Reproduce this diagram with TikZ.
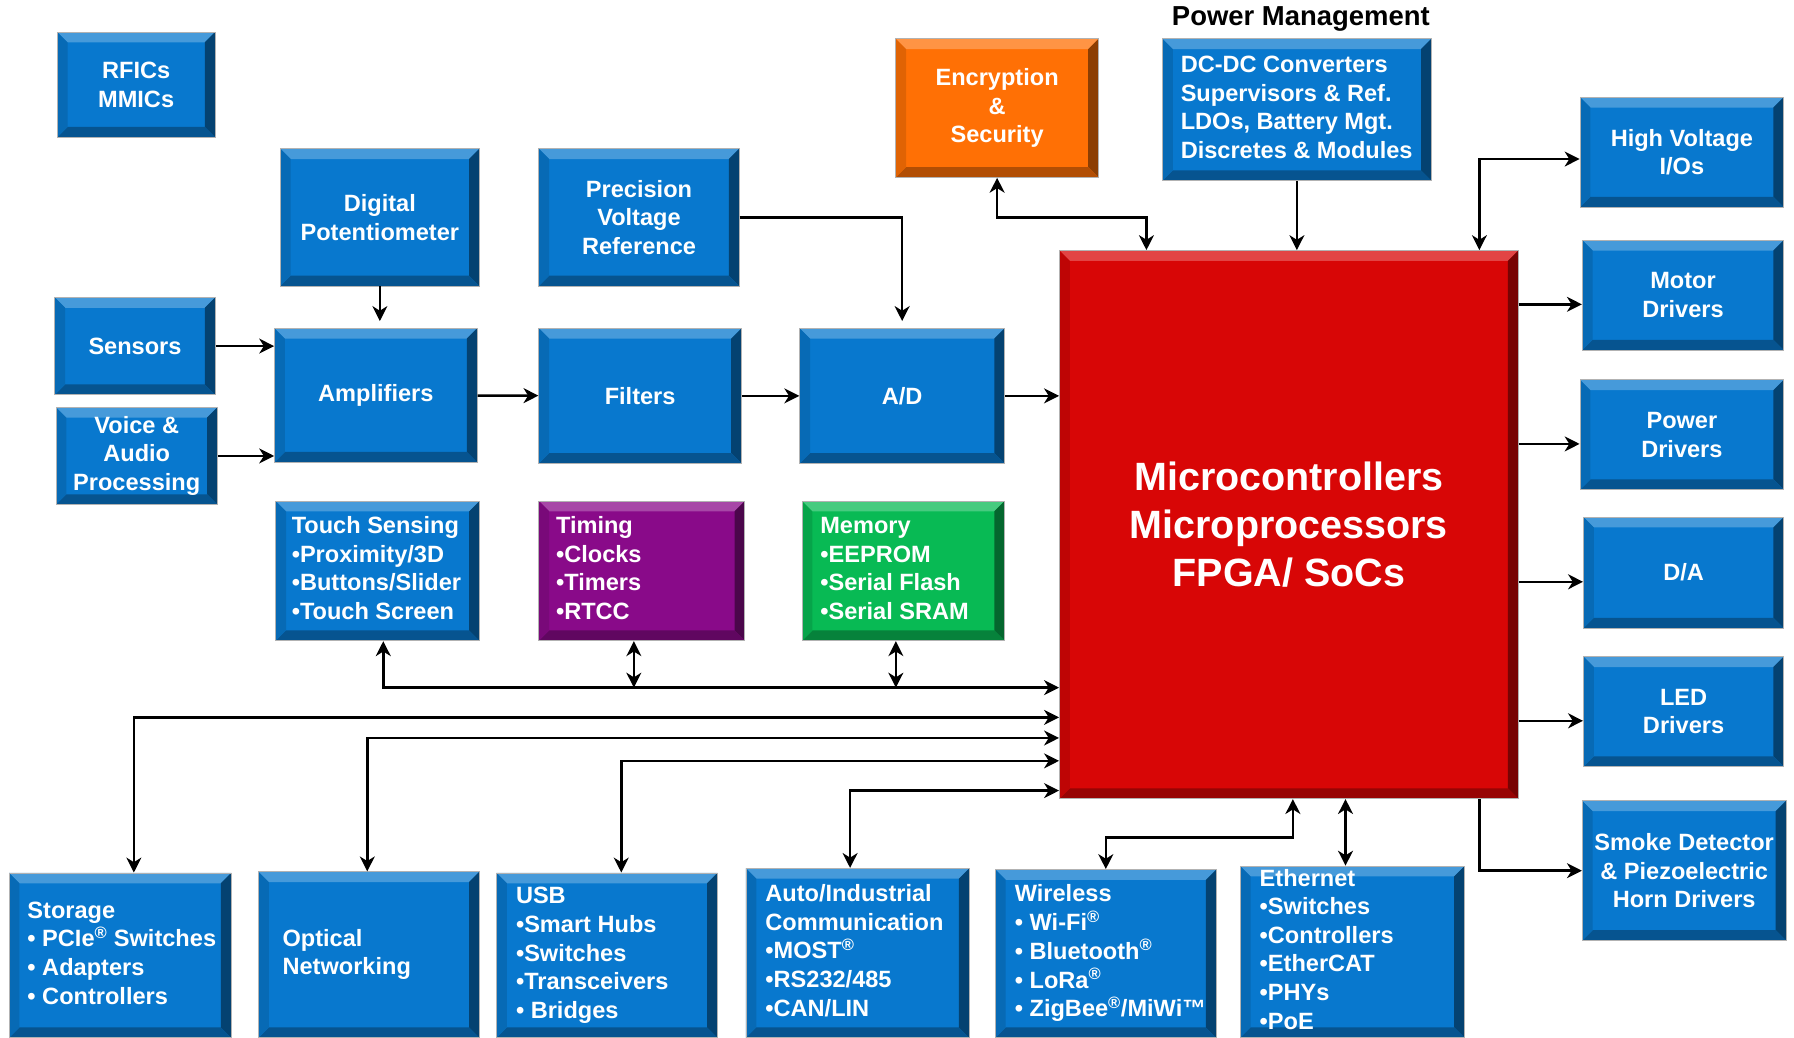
\documentclass[tikz,border=0pt]{standalone}
\usepackage{fontspec}
\setmainfont{Liberation Sans}
\usetikzlibrary{arrows.meta}

\definecolor{chipblue}{RGB}{8,120,206}
\definecolor{mcured}{RGB}{216,6,6}
\definecolor{secorange}{RGB}{255,112,5}
\definecolor{timepurple}{RGB}{137,10,137}
\definecolor{memgreen}{RGB}{8,186,84}

\newcommand{\bxfont}{\bfseries\fontsize{20.6}{25}\selectfont}
\newcommand{\mcufont}{\bfseries\fontsize{34.5}{42}\selectfont}
\newcommand{\reg}{\textsuperscript{®}}
% left aligned list of a given width
\newcommand{\lstbox}[2]{\hbox to #1pt{\begin{tabular}{@{}l@{}}#2\end{tabular}\hss}}

\begin{document}
\begin{tikzpicture}[x=1pt, y=-1pt, line width=2.2pt,
	>={Stealth[length=13pt,width=13pt,inset=4pt]},
	blk/.style = {fill=#1, draw=black!30, line width=0.8pt, text=white, font=\bxfont,
		align=center, inner sep=0pt,
		path picture={
			\path (path picture bounding box.north west) coordinate (bvA)
				(path picture bounding box.north east) coordinate (bvB)
				(path picture bounding box.south east) coordinate (bvC)
				(path picture bounding box.south west) coordinate (bvD);
			\fill[#1!75!white] (bvA) -- (bvB) -- ([shift={(-9pt,-9pt)}]bvB) -- ([shift={(9pt,-9pt)}]bvA) -- cycle;
			\fill[#1!55!black] (bvB) -- (bvC) -- ([shift={(-9pt,9pt)}]bvC) -- ([shift={(-9pt,-9pt)}]bvB) -- cycle;
			\fill[#1!70!black] (bvC) -- (bvD) -- ([shift={(9pt,9pt)}]bvD) -- ([shift={(-9pt,9pt)}]bvC) -- cycle;
			\fill[#1!88!black] (bvD) -- (bvA) -- ([shift={(9pt,-9pt)}]bvA) -- ([shift={(9pt,9pt)}]bvD) -- cycle;
		}},
	bluebox/.style = {blk=chipblue}]

	\useasboundingbox[fill=white] (0,0) rectangle (1568,907);

	% top row
	\node[bluebox, minimum width=138pt, minimum height=92pt] (rf) at (119,74) {RFICs\\MMICs};
	\node[bluebox, minimum width=174pt, minimum height=120pt] (pot) at (332,190) {Digital\\Potentiometer};
	\node[bluebox, minimum width=175pt, minimum height=120pt] (ref) at (558.5,190) {Precision\\Voltage\\Reference};
	\node[blk=secorange, minimum width=177pt, minimum height=121pt] (enc) at (871.5,94.5) {Encryption\\\&\\Security};
	\node[font=\bfseries\fontsize{24}{28}\selectfont] (pmt) at (1137,17) {Power Management};
	\node[bluebox, minimum width=235pt, minimum height=124pt] (pwr) at (1133.5,96)
		{\lstbox{203}{DC-DC Converters\\Supervisors \& Ref.\\LDOs, Battery Mgt.\\Discretes \& Modules}};

	% signal chain
	\node[bluebox, minimum width=140pt, minimum height=85pt] (sens) at (118,302.5) {Sensors};
	\node[bluebox, minimum width=141pt, minimum height=85pt] (voice) at (119.5,398.5) {Voice \&\\Audio\\Processing};
	\node[bluebox, minimum width=177pt, minimum height=117pt] (amp) at (328.5,345.5) {Amplifiers};
	\node[bluebox, minimum width=177pt, minimum height=118pt] (filt) at (559.5,346) {Filters};
	\node[bluebox, minimum width=179pt, minimum height=118pt] (ad) at (788.5,346) {A/D};

	% core
	\node[blk=mcured, font=\mcufont, minimum width=401pt, minimum height=479pt] (mcu) at (1126.5,458.5)
		{Microcontrollers\\Microprocessors\\FPGA/ SoCs};

	% middle row
	\node[bluebox, minimum width=178pt, minimum height=122pt] (touch) at (330,499)
		{\lstbox{150}{Touch Sensing\\•Proximity/3D\\•Buttons/Slider\\•Touch Screen}};
	\node[blk=timepurple, minimum width=180pt, minimum height=122pt] (tim) at (561,499)
		{\lstbox{150}{Timing\\•Clocks\\•Timers\\•RTCC}};
	\node[blk=memgreen, minimum width=177pt, minimum height=122pt] (mem) at (789.5,499)
		{\lstbox{145}{Memory\\•EEPROM\\•Serial Flash\\•Serial SRAM}};

	% right column
	\node[bluebox, minimum width=178pt, minimum height=96pt] (hv) at (1470,133) {High Voltage\\I/Os};
	\node[bluebox, minimum width=176pt, minimum height=96pt] (mot) at (1471,258) {Motor\\Drivers};
	\node[bluebox, minimum width=178pt, minimum height=96pt] (pdrv) at (1470,380) {Power\\Drivers};
	\node[bluebox, minimum width=175pt, minimum height=97pt] (da) at (1471.5,500.5) {D/A};
	\node[bluebox, minimum width=175pt, minimum height=96pt] (led) at (1471.5,622) {LED\\Drivers};
	\node[bluebox, minimum width=178pt, minimum height=122pt] (smk) at (1472,761)
		{Smoke Detector\\\& Piezoelectric\\Horn Drivers};

	% bottom row
	\node[bluebox, minimum width=194pt, minimum height=144pt] (stor) at (105,835)
		{\lstbox{162}{Storage\\• PCIe\reg\ Switches\\• Adapters\\• Controllers}};
	\node[bluebox, minimum width=193pt, minimum height=145pt] (opt) at (322.5,834.5)
		{\lstbox{151}{Optical\\Networking}};
	\node[bluebox, minimum width=193pt, minimum height=144pt] (usb) at (530.5,835)
		{\lstbox{159}{USB\\•Smart Hubs\\•Switches\\•Transceivers\\• Bridges}};
	\node[bluebox, minimum width=195pt, minimum height=148pt] (aut) at (749.5,833)
		{\lstbox{161}{Auto/Industrial\\Communication\\•MOST\reg\\•RS232/485\\•CAN/LIN}};
	\node[bluebox, minimum width=193pt, minimum height=147pt] (wl) at (966.5,833.5)
		{\lstbox{159}{Wireless\\• Wi-Fi\reg\\• Bluetooth\reg\\• LoRa\reg\\• ZigBee\reg/MiWi™}};
	\node[bluebox, minimum width=196pt, minimum height=150pt] (eth) at (1182,832)
		{\lstbox{162}{Ethernet\\•Switches\\•Controllers\\•EtherCAT\\•PHYs\\•PoE}};

	% bends of the connectors
	\coordinate (encj) at (1002,190);
	\coordinate (hvj) at (1293,139);
	\coordinate (busj) at (335,601);
	\coordinate (timj) at (554,601);
	\coordinate (memj) at (783,601);
	\coordinate (storj) at (117,627);
	\coordinate (optj) at (321,645);
	\coordinate (usbj) at (543,665);
	\coordinate (autj) at (743,691);
	\coordinate (wlj) at (1130,732);
	\coordinate (ethj) at (1176,732);

	% signal chain
	\draw[->, shorten >=6pt] (pot) -- (pot |- amp.north);
	\draw[->] (sens.east) -- (sens.east -| amp.west);
	\draw[->] (voice.east) -- (voice.east -| amp.west);
	\draw[->] (amp) -- (filt);
	\draw[->] (filt) -- (ad);
	\draw[->] (ad) -- (ad -| mcu.west);
	\draw[->, shorten >=6pt] (ref.east) -| (ad.north);

	% top of the core
	\draw[<->] (enc.south) |- (encj) -- (encj |- mcu.north);
	\draw[->] (pwr.south) -- (pwr.south |- mcu.north);
	\draw[<->] (hvj |- mcu.north) -- (hvj) -- (hvj -| hv.west);

	% right outputs
	\foreach \n in {mot,pdrv,da,led} {
		\path ([yshift=-8pt]\n.west) coordinate (t\n);
		\draw[->] (t\n -| mcu.east) -- (t\n);
	}
	\draw[->] (hvj |- mcu.south) |- (smk.west);

	% middle bus
	\draw[<->] (busj |- touch.south) -- (busj) -- (busj -| mcu.west);
	\draw[<->] (timj |- tim.south) -- (timj);
	\draw[<->] (memj |- mem.south) -- (memj);

	% bottom links
	\draw[<->] (storj -| mcu.west) -- (storj) -- (storj |- stor.north);
	\draw[<->] (optj -| mcu.west) -- (optj) -- (optj |- opt.north);
	\draw[<->] (usbj -| mcu.west) -- (usbj) -- (usbj |- usb.north);
	\draw[<->] (autj -| mcu.west) -- (autj) -- (autj |- aut.north);
	\draw[<->] (wlj |- mcu.south) -- (wlj) -| (wl.north);
	\draw[<->] (ethj |- mcu.south) -- (ethj |- eth.north);
\end{tikzpicture}
\end{document}
